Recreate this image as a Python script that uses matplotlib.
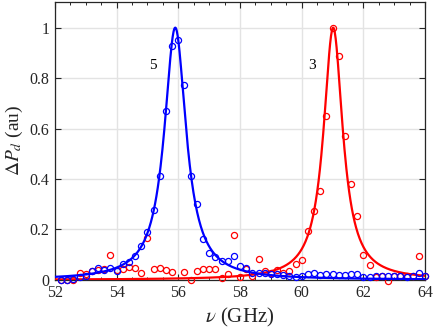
"""Resonance peaks of modes 5 and 3 — measured points and Lorentzian fits."""

import matplotlib
matplotlib.use("Agg")
import matplotlib.pyplot as plt
import matplotlib.ticker as ticker
import numpy as np

# ---------------------------------------------------------------------------
# Data
# ---------------------------------------------------------------------------

freq_ghz = [
    52.2, 52.4, 52.6, 52.8, 53.0, 53.2, 53.4, 53.6, 53.8, 54.0,
    54.2, 54.4, 54.6, 54.8, 55.0, 55.2, 55.4, 55.6, 55.8, 56.0,
    56.2, 56.4, 56.6, 56.8, 57.0, 57.2, 57.4, 57.6, 57.8, 58.0,
    58.2, 58.4, 58.6, 58.8, 59.0, 59.2, 59.4, 59.6, 59.8, 60.0,
    60.2, 60.4, 60.6, 60.8, 61.0, 61.2, 61.4, 61.6, 61.8, 62.0,
    62.2, 62.4, 62.6, 62.8, 63.0, 63.2, 63.4, 63.6, 63.8, 64.0,
]

mode5_meas = [
    0.000, 0.000, 0.003, 0.010, 0.016, 0.036, 0.047, 0.041, 0.049, 0.037,
    0.062, 0.071, 0.094, 0.135, 0.188, 0.277, 0.410, 0.671, 0.929, 0.951,
    0.773, 0.410, 0.300, 0.164, 0.107, 0.092, 0.075, 0.074, 0.093, 0.054,
    0.047, 0.029, 0.029, 0.028, 0.025, 0.022, 0.019, 0.016, 0.012, 0.015,
    0.025, 0.028, 0.021, 0.022, 0.022, 0.021, 0.021, 0.025, 0.022, 0.013,
    0.013, 0.016, 0.016, 0.016, 0.015, 0.015, 0.013, 0.016, 0.028, 0.015,
]

mode3_meas = [
    0.000, 0.000, 0.000, 0.029, 0.025, 0.036, 0.038, 0.042, 0.099, 0.038,
    0.042, 0.052, 0.049, 0.027, 0.165, 0.042, 0.046, 0.041, 0.030, np.nan,
    0.030, 0.000, 0.036, 0.042, 0.045, 0.042, 0.007, 0.024, 0.179, 0.010,
    0.045, 0.016, 0.082, 0.036, 0.029, 0.038, 0.029, 0.036, 0.062, 0.079,
    0.195, 0.274, 0.353, 0.651, 0.997, 0.886, 0.569, 0.380, 0.255, 0.100,
    0.057, 0.010, 0.016, -0.003, 0.016, 0.016, 0.016, 0.016, 0.094, 0.016,
]

# Lorentzian fit parameters: (centre GHz, half width GHz)
mode_labels = ["5", "3"]
fit_centre = [55.90, 61.02]
fit_halfwidth = [0.43, 0.38]
label_pos = [(55.17, 0.85), (60.33, 0.85)]

# ---------------------------------------------------------------------------
# Plot
# ---------------------------------------------------------------------------

plt.rcParams["font.family"] = ["Liberation Serif", "DejaVu Serif"]
plt.rcParams["mathtext.fontset"] = "stix"

GREY = "#262626"

fig = plt.figure(figsize=(4.36, 3.32), dpi=100)
ax = fig.add_axes([0.126, 0.157, 0.849, 0.838])

nu = np.linspace(52, 64, 800)


def lorentz(x, x0, g):
    return 1.0 / (1.0 + ((x - x0) / g) ** 2)


# red (mode 3) first, blue on top
ax.plot(freq_ghz, mode3_meas, "o", mfc="none", mec="#ff0000", ms=4.4, mew=0.9,
        clip_on=False, zorder=3)
ax.plot(nu, lorentz(nu, fit_centre[1], fit_halfwidth[1]), color="#ff0000", lw=1.6,
        zorder=3)
ax.plot(freq_ghz, mode5_meas, "o", mfc="none", mec="#0000ff", ms=4.4, mew=0.9,
        clip_on=False, zorder=4)
ax.plot(nu, lorentz(nu, fit_centre[0], fit_halfwidth[0]), color="#0000ff", lw=1.6,
        zorder=4)

for lab, (tx, ty) in zip(mode_labels, label_pos):
    ax.text(tx, ty, lab, fontsize=11, ha="center", va="center", color="black")

ax.set_xlim(52, 64)
ax.set_ylim(0, 1.103)
ax.xaxis.set_major_locator(ticker.MultipleLocator(2))
ax.xaxis.set_minor_locator(ticker.MultipleLocator(0.5))
ax.yaxis.set_major_locator(ticker.MultipleLocator(0.2))
ax.yaxis.set_major_formatter(ticker.FuncFormatter(lambda v, _: f"{v:g}"))

ax.grid(True, which="major", color="#e3e3e3", lw=1.0, zorder=0)
ax.set_axisbelow(True)

ax.tick_params(which="both", direction="in", top=True, right=True,
               colors=GREY, labelsize=11.5, pad=4)
ax.tick_params(which="major", length=4, width=0.8)
ax.tick_params(which="minor", length=2.2, width=0.7)
for sp in ax.spines.values():
    sp.set_color(GREY)
    sp.set_linewidth(0.9)

ax.set_xlabel(r"$\nu$ (GHz)", fontsize=15, color=GREY, labelpad=3)
ax.set_ylabel(r"$\Delta P_d$ (au)", fontsize=14, color=GREY, labelpad=3)

fig.savefig("out.png", dpi=100)
